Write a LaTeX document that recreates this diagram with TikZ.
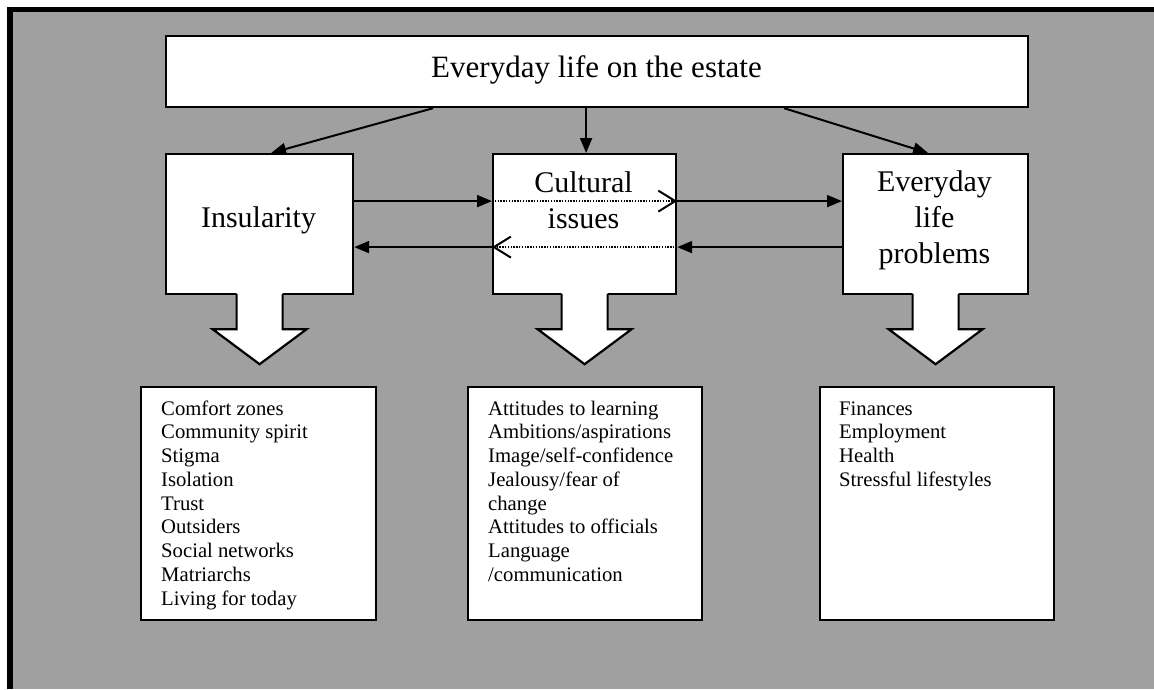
\documentclass[tikz,border=0pt]{standalone}
\usepackage{fontspec}
\setmainfont{Liberation Serif}
\usetikzlibrary{arrows.meta,calc}
\definecolor{bggray}{RGB}{160,160,160}
\newcommand{\blockarrow}[1]{%
  \fill[white] ($(#1.south)+(-23,-3)$) -- ($(#1.south)+(-23,34)$) -- ($(#1.south)+(-47,34)$) -- ($(#1.south)+(0,69)$) -- ($(#1.south)+(47,34)$) -- ($(#1.south)+(23,34)$) -- ($(#1.south)+(23,-3)$) -- cycle;
  \draw[line width=2.2pt,line join=miter] ($(#1.south)+(-23,-1.1)$) -- ($(#1.south)+(-23,34)$) -- ($(#1.south)+(-47,34)$) -- ($(#1.south)+(0,69)$) -- ($(#1.south)+(47,34)$) -- ($(#1.south)+(23,34)$) -- ($(#1.south)+(23,-1.1)$);}
\begin{document}
\begin{tikzpicture}[x=1pt,y=-1pt,
  box/.style={draw=black,line width=2.2pt,fill=white,inner sep=0pt,anchor=north west},
  title/.style={inner sep=0pt,font=\fontsize{31}{36}\selectfont},
  lbl/.style={inner sep=0pt,align=center,font=\fontsize{30}{36}\selectfont},
  lst/.style={inner sep=0pt,align=left,anchor=base west,font=\fontsize{20.7}{23.75}\selectfont},
  arr/.style={line width=2pt,-{Triangle[length=15pt,width=12pt]}},
  dotarr/.style={line width=1.4pt,dash pattern=on 1.4pt off 1.4pt,-{Straight Barb[length=17pt,width=21pt,line width=2pt]}}]
\useasboundingbox (0,0) rectangle (1154,689);
\fill[white] (0,0) rectangle (1154,689);
\fill[bggray] (13,12) rectangle (1154,689);
\fill[black] (7,7) rectangle (13,689);
\fill[black] (7,7) rectangle (1154,12);

% boxes
\node[box,minimum width=862pt,minimum height=71pt] (top) at (165,35) {};
\node[box,minimum width=187pt,minimum height=140pt] (ins) at (165,153) {};
\node[box,minimum width=183pt,minimum height=140pt] (cul) at (492,153) {};
\node[box,minimum width=185pt,minimum height=140pt] (evd) at (842,153) {};

\node[box,minimum width=235pt,minimum height=233pt] (insl) at (140,386) {};
\node[box,minimum width=234pt,minimum height=233pt] (cull) at (467,386) {};
\node[box,minimum width=234pt,minimum height=233pt] (evdl) at (819,386) {};

% block arrows
\blockarrow{ins}
\blockarrow{cul}
\blockarrow{evd}

% texts (base anchor of a multi-line node = baseline of its last line)
\node[title,anchor=base] (tt) at (596.5,77) {Everyday life on the estate};
\node[lbl,anchor=base] (inst) at (258.5,227) {Insularity};
\node[lbl,anchor=base] (cult) at (583.5,228) {Cultural\\issues};
\node[lbl,anchor=base] (evdt) at (934.5,263) {Everyday\\life\\problems};

\node[lst] (inslt) at (161,605) {Comfort zones\\Community spirit\\Stigma\\Isolation\\Trust\\Outsiders\\Social networks\\Matriarchs\\Living for today};
\node[lst] (cullt) at (488,581.25) {Attitudes to learning\\Ambitions/aspirations\\Image/self-confidence\\Jealousy/fear of\\change\\Attitudes to officials\\Language\\/communication};
\node[lst] (evdlt) at (839,486.25) {Finances\\Employment\\Health\\Stressful lifestyles};

% arrows from top
\draw[arr] ([xshift=-164pt]top.south) -- ([xshift=11.5pt]ins.north);
\draw[arr] ([xshift=-11pt]top.south) -- ([xshift=1.5pt]cul.north);
\draw[arr] ([xshift=187pt]top.south) -- ([xshift=-7.5pt]evd.north);

% horizontal arrows
\draw[arr] ([yshift=23pt]ins.east) -- ([yshift=23pt]cul.west);
\draw[dotarr] ([yshift=23pt]cul.west) -- ([yshift=23pt]cul.east);
\draw[arr] ([yshift=23pt]cul.east) -- ([yshift=23pt]evd.west);
\draw[arr] ([yshift=-23pt]evd.west) -- ([yshift=-23pt]cul.east);
\draw[dotarr] ([yshift=-23pt]cul.east) -- ([yshift=-23pt]cul.west);
\draw[arr] ([yshift=-23pt]cul.west) -- ([yshift=-23pt]ins.east);
\end{tikzpicture}
\end{document}
